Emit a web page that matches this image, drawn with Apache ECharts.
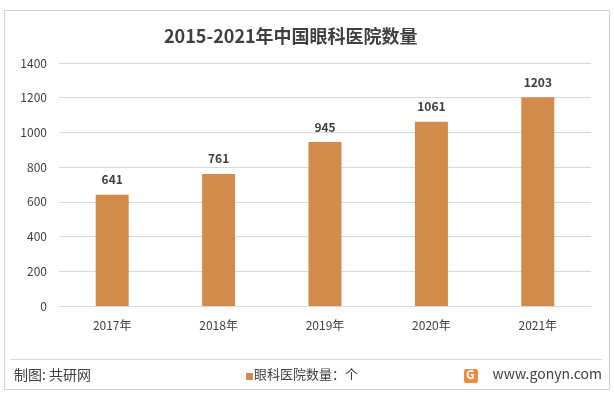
<!DOCTYPE html>
<html><head><meta charset="utf-8">
<script src="https://cdn.jsdelivr.net/npm/echarts@6/dist/echarts.min.js"></script>
<style>html,body{margin:0;padding:0;background:#fff}#c{width:614px;height:396px}</style>
</head><body><div id="c"></div>
<script>
var categories = ['2017年','2018年','2019年','2020年','2021年'];
var values = [641, 761, 945, 1061, 1203];
var yTicks = [0, 200, 400, 600, 800, 1000, 1200, 1400];
var titleText = '2015-2021年中国眼科医院数量';
var seriesName = '眼科医院数量：个';

var chart = echarts.init(document.getElementById('c'));
var F = '"Noto Sans CJK SC", "Microsoft YaHei", sans-serif';
chart.setOption({
  animation: false,
  backgroundColor: '#fff',
  title: { text: titleText, left: 159, top: 22, textStyle: { fontFamily: F, fontSize: 18, fontWeight: 'bold', color: '#404040' } },
  grid: { left: 59, right: 23, top: 63, bottom: 90 },
  xAxis: {
    type: 'category', data: categories,
    axisLine: { lineStyle: { color: '#d9d9d9' } }, axisTick: { show: false },
    axisLabel: { fontFamily: F, fontSize: 12, color: '#404040', margin: 13 }
  },
  yAxis: {
    type: 'value', min: yTicks[0], max: yTicks[yTicks.length-1], interval: 200,
    axisLine: { show: false }, axisTick: { show: false },
    splitLine: { lineStyle: { color: '#d9d9d9' } },
    axisLabel: { fontFamily: F, fontSize: 12, color: '#404040', margin: 12, formatter: function (v) { return String(v); } }
  },
  series: [{
    type: 'bar', name: seriesName, data: values, barWidth: 33,
    itemStyle: { color: '#D38B4C' },
    label: { show: true, position: 'top', distance: 9, fontFamily: F, fontSize: 12, fontWeight: 'bold', color: '#404040' }
  }],
  graphic: [
    { type: 'rect', shape: { x: 4.5, y: 10.5, width: 605, height: 379 }, style: { fill: 'none', stroke: '#d0d0d0', lineWidth: 1 } },
    { type: 'line', shape: { x1: 10, y1: 359.5, x2: 602, y2: 359.5 }, style: { stroke: '#d9d9d9', lineWidth: 1 } },
    { type: 'text', left: 14, top: 368, style: { text: '制图: 共研网', font: '14px ' + F, fill: '#404040' } },
    { type: 'rect', shape: { x: 246, y: 373, width: 7, height: 7 }, style: { fill: '#D38B4C' } },
    { type: 'text', left: 254, top: 368, style: { text: seriesName, font: '13px ' + F, fill: '#404040' } },
    { type: 'rect', shape: { x: 464, y: 369, width: 14, height: 14, r: 2 }, style: { fill: '#F08C3C' } },
    { type: 'text', left: 466, top: 368, style: { text: 'G', font: 'bold 12px ' + F, fill: '#fff' } },
    { type: 'text', right: 12, top: 367, style: { text: 'www.gonyn.com', font: '14px ' + F, fill: '#404040' } }
  ]
});
</script></body></html>
